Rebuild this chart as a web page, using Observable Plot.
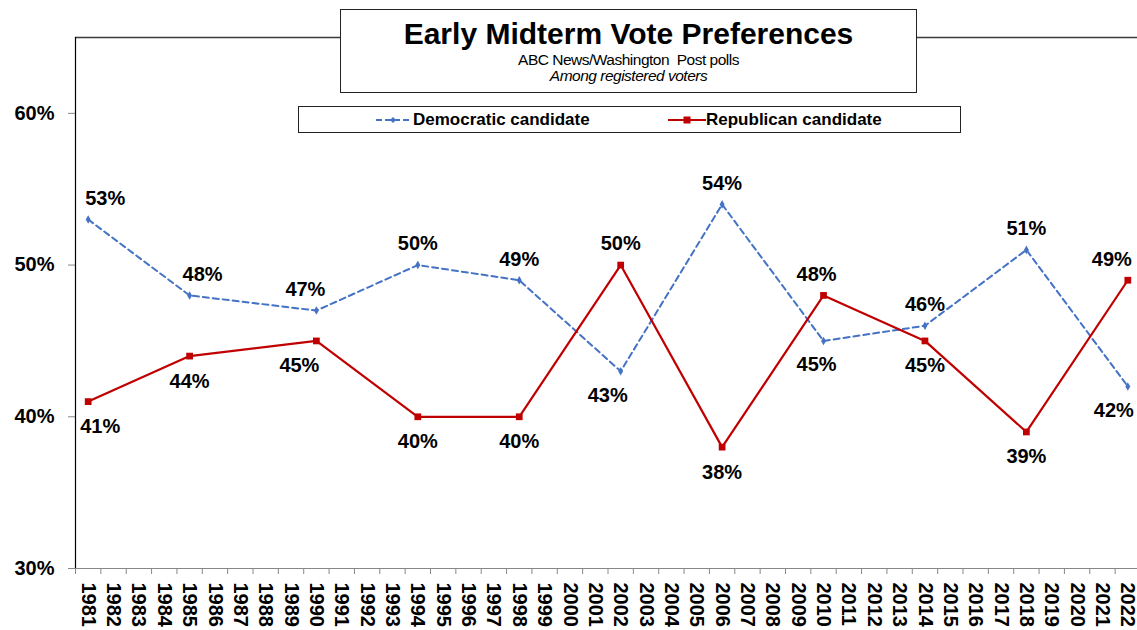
<!DOCTYPE html>
<html>
<head>
<meta charset="utf-8">
<script src="https://cdn.jsdelivr.net/npm/d3@7"></script>
<script src="https://cdn.jsdelivr.net/npm/@observablehq/plot@0.6"></script>
<style>
  body { margin: 0; background: #fff; font-family: "Liberation Sans", Arial, sans-serif; }
  #wrap { position: relative; width: 1137px; height: 630px; overflow: hidden; }
  #chart svg { position: absolute; left: 0; top: 0; }
  #titlebox { position: absolute; left: 340px; top: 9px; width: 575px; height: 82px;
    border: 1px solid #222; background: #fff; box-sizing: content-box; }
  #titlebox div { position: absolute; left: 0; right: 0; text-align: center; white-space: pre; color: #000; }
  #t1 { top: 9px; font-size: 30px; line-height: 30px; font-weight: bold; }
  #t2 { top: 42px; font-size: 15.5px; line-height: 15.5px; letter-spacing: -0.5px; }
  #t3 { top: 58px; font-size: 15.5px; line-height: 15.5px; font-style: italic; letter-spacing: -0.5px; }
  #legend { position: absolute; left: 298px; top: 106px; width: 661px; height: 25px;
    border: 1px solid #222; background: #fff; }
  #legend span { position: absolute; top: 4px; font-size: 17px; line-height: 17px; font-weight: bold; color: #000; white-space: nowrap; }
  #legend svg { position: absolute; left: 0; top: 0; }
</style>
</head>
<body>
<div id="wrap">
  <div id="chart"></div>
  <div id="titlebox">
    <div id="t1">Early Midterm Vote Preferences</div>
    <div id="t2">ABC News/Washington  Post polls</div>
    <div id="t3">Among registered voters</div>
  </div>
  <div id="legend"></div>
</div>
<script>
// ---- data ----
const pollYears = [1981, 1985, 1990, 1994, 1998, 2002, 2006, 2010, 2014, 2018, 2022];
const democratic = [53, 48, 47, 50, 49, 43, 54, 45, 46, 51, 42];
const republican = [41, 44, 45, 40, 40, 50, 38, 48, 45, 39, 49];
const axisYears = [1981, 1982, 1983, 1984, 1985, 1986, 1987, 1988, 1989, 1990, 1991,
  1992, 1993, 1994, 1995, 1996, 1997, 1998, 1999, 2000, 2001, 2002, 2003, 2004, 2005,
  2006, 2007, 2008, 2009, 2010, 2011, 2012, 2013, 2014, 2015, 2016, 2017, 2018, 2019,
  2020, 2021, 2022];
const yTicks = [30, 40, 50, 60];
const seriesNames = ["Democratic candidate", "Republican candidate"];

// ---- build ----
const rows = pollYears.map((y, i) => ({year: y, dem: democratic[i], rep: republican[i]}));
const boundaries = [axisYears[0] - 0.5, ...axisYears.map(y => y + 0.5)];

const DEM = "#4472C4", REP = "#C00000";
const FONT = "Liberation Sans, Arial, sans-serif";

// label nudges (px) to mimic the reference placement
const demNudge = {1981: 17, 1985: 13, 1990: -11, 2002: -13, 2010: -7, 2022: -14};
const repNudge = {1981: 12, 1990: -17, 2010: -7, 2022: -16};

const labelMarks = [];
rows.forEach(d => {
  const demAbove = d.dem > d.rep;
  labelMarks.push(Plot.text([d], {x: "year", y: "dem", text: r => r.dem + "%",
    dy: demAbove ? -21 : 24, dx: demNudge[d.year] || 0,
    fontSize: 20, fontWeight: "bold", fill: "#000"}));
  labelMarks.push(Plot.text([d], {x: "year", y: "rep", text: r => r.rep + "%",
    dy: demAbove ? 25 : -21, dx: repNudge[d.year] || 0,
    fontSize: 20, fontWeight: "bold", fill: "#000"}));
});

const chart = Plot.plot({
  width: 1137,
  height: 630,
  marginLeft: 75,
  marginRight: 0,
  marginTop: 37,
  marginBottom: 62,
  style: {fontFamily: FONT, background: "transparent", overflow: "visible"},
  x: {type: "linear", domain: [boundaries[0], boundaries[boundaries.length - 1]], range: [75, 1140], axis: null},
  y: {domain: [30, 65], range: [568, 37], axis: null},
  marks: [
    Plot.ruleY([65], {stroke: "#3a3a3a", strokeWidth: 1.5}),
    Plot.axisY(yTicks, {anchor: "left", tickSize: 7, tickPadding: 14, stroke: "#888",
      tickFormat: d => d + "%", fontSize: 20, fontWeight: "bold", fill: "#000", label: null}),
    Plot.ruleY([30], {stroke: "#888", strokeWidth: 1.2}),
    Plot.axisX(boundaries, {anchor: "bottom", tickSize: 6, stroke: "#888", tickFormat: () => "", label: null}),
    Plot.axisX(axisYears, {anchor: "bottom", tickSize: 0, tickPadding: 14, tickRotate: 90,
      tickFormat: d => String(d), fontSize: 20, fontWeight: "bold", fill: "#000", label: null}),
    Plot.ruleX([boundaries[0]], {stroke: "#000", strokeWidth: 1.2}),
    Plot.line(rows, {x: "year", y: "dem", stroke: DEM, strokeWidth: 2, strokeDasharray: "6,4"}),
    Plot.dot(rows, {x: "year", y: "dem", symbol: "diamond", r: 2.6, fill: DEM}),
    Plot.line(rows, {x: "year", y: "rep", stroke: REP, strokeWidth: 2.2}),
    Plot.dot(rows, {x: "year", y: "rep", symbol: "square", r: 3.8, fill: REP}),
    ...labelMarks
  ]
});
document.getElementById("chart").appendChild(chart);

// ---- legend ----
const legend = document.getElementById("legend");
const ns = "http://www.w3.org/2000/svg";
const lsvg = document.createElementNS(ns, "svg");
lsvg.setAttribute("width", 661); lsvg.setAttribute("height", 25);
function add(tag, attrs) { const e = document.createElementNS(ns, tag); for (const k in attrs) e.setAttribute(k, attrs[k]); lsvg.appendChild(e); }
add("line", {x1: 77, x2: 112, y1: 13, y2: 13, stroke: DEM, "stroke-width": 2, "stroke-dasharray": "6,3"});
add("path", {d: "M94,10 L97,13 L94,16 L91,13 Z", fill: DEM});
add("line", {x1: 369, x2: 407, y1: 13, y2: 13, stroke: REP, "stroke-width": 2.2});
add("rect", {x: 384.5, y: 9.5, width: 7, height: 7, fill: REP});
legend.appendChild(lsvg);
const s1 = document.createElement("span"); s1.textContent = seriesNames[0]; s1.style.left = "114px"; legend.appendChild(s1);
const s2 = document.createElement("span"); s2.textContent = seriesNames[1]; s2.style.left = "407px"; legend.appendChild(s2);
</script>
</body>
</html>
